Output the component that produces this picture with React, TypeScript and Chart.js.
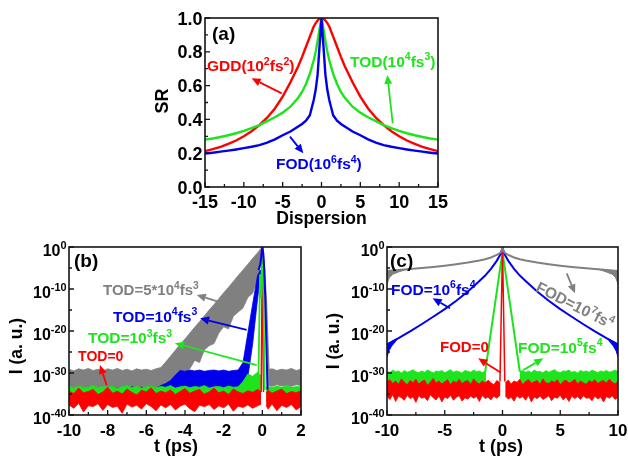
import React, { useEffect, useRef } from 'react';
import { Chart, registerables } from 'chart.js';

Chart.register(...registerables);

const W = 628;
const H = 458;
const FONT = '"Liberation Sans", Arial, Helvetica, sans-serif';
const RED = 'rgb(255,0,0)';
const GREEN = 'rgb(30,228,30)';
const BLUE = 'rgb(0,0,235)';
const GRAY = 'rgb(128,128,128)';

// ---------------- Panel (a): SR vs dispersion ----------------
const dispersion = [-15, -14, -13, -12, -11, -10, -9, -8, -7, -6, -5, -4, -3, -2.5, -2, -1.5, -1, -0.75, -0.5, -0.25, -0.1, 0, 0.1, 0.25, 0.5, 0.75, 1, 1.5, 2, 2.5, 3, 4, 5, 6, 7, 8, 9, 10, 11, 12, 13, 14, 15];
const srGDD = [0.212, 0.224, 0.238, 0.255, 0.275, 0.300, 0.330, 0.366, 0.410, 0.465, 0.535, 0.620, 0.715, 0.770, 0.830, 0.890, 0.950, 0.970, 0.985, 0.996, 0.999, 1.000, 0.999, 0.996, 0.985, 0.970, 0.950, 0.890, 0.830, 0.770, 0.715, 0.620, 0.535, 0.465, 0.410, 0.366, 0.330, 0.300, 0.275, 0.255, 0.238, 0.224, 0.212];
const srTOD = [0.280, 0.287, 0.296, 0.306, 0.318, 0.332, 0.348, 0.366, 0.390, 0.413, 0.440, 0.475, 0.528, 0.562, 0.610, 0.670, 0.750, 0.800, 0.865, 0.935, 0.975, 1.000, 0.975, 0.935, 0.865, 0.800, 0.750, 0.670, 0.610, 0.562, 0.528, 0.475, 0.440, 0.413, 0.390, 0.366, 0.348, 0.332, 0.318, 0.306, 0.296, 0.287, 0.280];
const srFOD = [0.198, 0.203, 0.209, 0.215, 0.222, 0.230, 0.238, 0.248, 0.262, 0.282, 0.306, 0.328, 0.358, 0.373, 0.392, 0.425, 0.515, 0.575, 0.665, 0.835, 0.930, 1.000, 0.930, 0.835, 0.665, 0.575, 0.515, 0.425, 0.392, 0.373, 0.358, 0.328, 0.306, 0.282, 0.262, 0.248, 0.238, 0.230, 0.222, 0.215, 0.209, 0.203, 0.198];
const srTicks = [0, 0.2, 0.4, 0.6, 0.8, 1.0];
const srTickLabels = ['0.0', '0.2', '0.4', '0.6', '0.8', '1.0'];
const srMinor = [0.1, 0.3, 0.5, 0.7, 0.9];
const dispTicks = [-15, -10, -5, 0, 5, 10, 15];
const dispTickLabels = ['-15', '-10', '-5', '0', '5', '10', '15'];
const dispMinor = [-12.5, -7.5, -2.5, 2.5, 7.5, 12.5];

// ---------------- Panel (b): TOD, intensity exponents (log10) ----------------
const tB = [-10, -9.75, -9.5, -9.25, -9, -8.75, -8.5, -8.25, -8, -7.75, -7.5, -7.25, -7, -6.75, -6.5, -6.25, -6, -5.75, -5.5, -5.25, -5, -4.75, -4.5, -4.25, -4, -3.75, -3.5, -3.25, -3, -2.75, -2.5, -2.25, -2, -1.75, -1.5, -1.25, -1, -0.75, -0.5, -0.25, -0.1, 0, 0.1, 0.2, 0.3, 0.5, 0.75, 1, 1.25, 1.5, 1.75, 2];
const tod5e4Top = [-29.1, -29.5, -29.0, -29.3, -28.9, -29.4, -29.1, -29.5, -29.0, -29.3, -28.9, -29.4, -29.1, -29.5, -29.0, -29.3, -29.1, -29.4, -29.0, -28.7,
  -27.4, -26.0, -24.6, -23.2, -21.9, -20.5, -19.1, -17.8, -16.4, -15.0, -13.7, -12.3, -10.9, -9.6, -8.2, -6.8, -5.5, -4.1, -2.7, -1.4, -0.5,
  0, null, null, -29.2, -29.0, -29.4, -29.1, -29.3, -28.9, -29.4, -29.1];
const tod5e4Bot = [-34.6, -34.3, -34.8, -34.4, -34.7, -34.3, -34.6, -34.9, -34.4, -34.7, -34.3, -34.6, -34.8, -34.4, -34.6, -34.3, -34.7, -34.5, -34.8, -34.4,
  -34.6, -34.0, -33.0, -31.5, -30.0, -29.0, -27.0, -27.5, -24.5, -23.5, -23.0, -20.5, -19.0, -19.5, -16.5, -15.5, -14.5, -12.0, -11.0, -7.5, -4.5,
  0, null, null, -33.0, -33.2, -32.8, -33.1, -32.9, -33.2, -32.8, -33.0];
const tod1e4Top = [-33.5, -33.8, -33.4, -33.7, -33.3, -33.6, -33.9, -33.4, -33.6, -33.2, -33.7, -33.5, -33.8, -33.3, -33.6, -33.4, -33.7, -33.3, -33.6, -33.0,
  -32.5, -31.8, -30.5, -29.4, -29.6, -29.3, -29.5, -29.3, -29.6, -29.4, -29.3, -29.5, -29.3, -29.6, -29.4, -29.3, -27.5, -20.5, -13.6, -6.8, -5.5,
  null, null, null, -33.4, -33.7, -33.3, -33.6, -33.2, -33.5, -33.8, -33.4];
const tod1e4Bot = [-36.8, -36.4, -37.0, -36.6, -36.9, -36.5, -37.1, -36.7, -36.4, -36.9, -36.6, -37.0, -36.5, -36.8, -36.4, -36.9, -36.6, -37.0, -36.7, -36.5,
  -36.9, -36.6, -36.8, -36.5, -36.9, -36.6, -36.8, -36.4, -36.7, -36.9, -36.5, -36.8, -36.6, -36.9, -36.5, -36.7, -36.6, -31.0, -23.0, -12.5, -7.0,
  null, null, null, -36.7, -36.4, -36.9, -36.6, -36.8, -36.5, -36.9, -36.6];
const tod1e3Top = [-33.2, -33.6, -33.1, -33.5, -33.3, -33.0, -33.6, -33.2, -33.4, -33.1, -33.7, -33.3, -33.0, -33.5, -33.2, -33.6, -33.3, -33.1, -33.5, -33.2,
  -33.4, -33.0, -33.6, -33.3, -33.1, -33.5, -33.2, -33.4, -33.0, -33.6, -33.3, -33.2, -33.5, -33.1, -33.4, -33.3,
  -32.0, -30.2, -30.8, -29.8, -30.5, null, null, -33.4, -33.2, -33.5, -33.1, -33.4, -33.0, -33.5, -33.2, -33.3];
const tod1e3Bot = [-36.6, -37.0, -36.5, -36.9, -36.7, -37.1, -36.4, -36.8, -36.6, -37.0, -36.5, -36.9, -36.7, -36.4, -36.8, -37.0, -36.6, -36.9, -36.5, -36.8,
  -36.7, -37.0, -36.4, -36.8, -36.6, -36.9, -36.5, -36.8, -37.0, -36.6, -36.7, -36.9, -36.5, -36.8, -36.6, -36.9, -36.7, -36.5, -36.8, -36.6, -36.4,
  null, null, -36.8, -36.5, -36.9, -36.6, -37.0, -36.7, -36.5, -36.9, -36.6];
const tod0Top = [-34.3, -34.9, -33.6, -34.7, -34.4, -33.9, -35.1, -34.5, -33.4, -34.8, -34.3, -35.0, -33.8, -34.6, -35.2, -34.1, -34.5, -33.5, -34.9, -34.3,
  -34.7, -34.0, -35.1, -34.4, -33.7, -34.8, -34.3, -33.9, -35.0, -34.5, -33.6, -34.7, -34.3, -35.1, -33.8, -34.5, -34.9, -34.2, -34.6, -33.9, -34.3,
  null, null, -34.6, -34.1, -34.8, -34.3, -33.8, -34.9, -34.4, -34.7, -34.2];
const tod0Bot = [-37.6, -38.4, -37.2, -39.3, -37.8, -38.0, -37.3, -38.9, -37.5, -38.2, -37.9, -39.6, -37.4, -38.1, -37.7, -38.6, -37.3, -38.0, -39.0, -37.6,
  -38.3, -37.5, -38.8, -37.9, -37.4, -38.5, -39.2, -37.7, -38.0, -37.5, -38.7, -37.8, -38.3, -37.4, -39.1, -37.9, -38.2, -37.6, -38.4, -37.8, -37.5,
  null, null, -37.8, -38.6, -37.4, -39.0, -37.7, -38.2, -37.5, -38.8, -38.0];
const grayFallT = [0, 0.1, 0.2, 0.33];
const grayFallE = [0, -5, -13, -29.5];
const bluePeakT = [-0.2, -0.1, -0.04, 0, 0.05, 0.1, 0.15, 0.2, 0.27];
const bluePeakE = [-5.5, -4, -1.5, 0, -1.5, -5.5, -12, -21.5, -34];
const greenPeakT = [-0.2, -0.12, -0.07, 0, 0.06, 0.12];
const greenPeakE = [-31, -6.5, -12, 0, -12, -34];
const redPeakT = [-0.06, 0, 0.06];
const redPeakE = [-34.5, 0, -34.5];
const tBTicks = [-10, -8, -6, -4, -2, 0, 2];
const tBTickLabels = ['-10', '-8', '-6', '-4', '-2', '0', '2'];
const tBMinor = [-9, -7, -5, -3, -1, 1];

// ---------------- Panel (c): FOD, intensity exponents (log10) ----------------
const tC = [-10, -9.75, -9.5, -9.25, -9, -8.75, -8.5, -8.25, -8, -7.75, -7.5, -7.25, -7, -6.75, -6.5, -6.25, -6, -5.75, -5.5, -5.25, -5, -4.75, -4.5, -4.25, -4, -3.75, -3.5, -3.25, -3, -2.75, -2.5, -2.25, -2, -1.75, -1.5, -1.25, -1, -0.75, -0.5, -0.25, 0,
  0.25, 0.5, 0.75, 1, 1.25, 1.5, 1.75, 2, 2.25, 2.5, 2.75, 3, 3.25, 3.5, 3.75, 4, 4.25, 4.5, 4.75, 5, 5.25, 5.5, 5.75, 6, 6.25, 6.5, 6.75, 7, 7.25, 7.5, 7.75, 8, 8.25, 8.5, 8.75, 9, 9.25, 9.5, 9.75, 10];
const fod1e5Top = [-29.6, -29.9, -29.3, -29.7, -29.5, -30.0, -29.4, -29.8, -29.6, -29.2, -29.7, -29.9, -29.5, -29.8, -29.3, -29.6, -30.0, -29.5, -29.7, -29.4,
  -29.9, -29.6, -29.2, -29.8, -29.5, -29.7, -30.0, -29.4, -29.6, -29.8, -29.3, -29.7, -29.5, -29.9, -29.6,
  null, null, null, null, null, null, null, null, null, null, null,
  -29.6, -29.4, -29.8, -29.5, -29.9, -29.3, -29.7, -29.6, -30.0, -29.4, -29.8, -29.5, -29.2, -29.7, -29.9, -29.5, -29.6, -29.3, -29.8, -29.6,
  -30.0, -29.4, -29.7, -29.5, -29.8, -29.3, -29.6, -29.9, -29.5, -29.7, -29.4, -29.8, -29.6, -29.3, -29.7];
const fod1e5Bot = [-34.4, -34.7, -34.2, -34.6, -34.3, -34.8, -34.5, -34.2, -34.6, -34.4, -34.7, -34.3, -34.5, -34.8, -34.2, -34.6, -34.4, -34.7, -34.3, -34.5,
  -34.6, -34.2, -34.8, -34.4, -34.5, -34.7, -34.3, -34.6, -34.2, -34.5, -34.4, -34.7, -34.3, -34.6, -34.5,
  null, null, null, null, null, null, null, null, null, null, null,
  -34.5, -34.3, -34.7, -34.4, -34.6, -34.2, -34.8, -34.5, -34.3, -34.6, -34.4, -34.7, -34.2, -34.5, -34.6, -34.3, -34.8, -34.4, -34.6, -34.2,
  -34.5, -34.7, -34.3, -34.6, -34.4, -34.8, -34.2, -34.5, -34.6, -34.3, -34.7, -34.4, -34.5, -34.6, -34.3];
const fod0Top = [-32.1, -31.6, -32.5, -31.9, -32.7, -31.4, -32.2, -32.8, -31.8, -32.3, -31.5, -32.6, -32.0, -31.7, -32.9, -32.2, -31.3, -32.4, -31.9, -32.6,
  -32.1, -31.6, -32.8, -31.9, -32.3, -31.5, -32.5, -32.0, -31.8, -32.7, -31.4, -32.2, -32.6, -31.9, -32.4, -31.7, -32.3, -32.8, -31.8, -32.2,
  null,
  -32.3, -31.7, -32.6, -31.9, -32.2, -31.5, -32.8, -32.0, -31.6, -32.4, -32.1, -31.8, -32.7, -31.4, -32.3, -32.5, -31.9, -32.2, -31.6, -32.8,
  -32.0, -31.7, -32.4, -32.1, -31.5, -32.6, -31.9, -32.3, -32.7, -31.8, -32.2, -31.6, -32.5, -32.0, -31.8, -32.4, -31.5, -32.2, -32.6, -32.0];
const fod0Bot = [-35.6, -36.3, -35.2, -36.8, -35.5, -35.9, -36.5, -35.3, -36.1, -35.7, -37.0, -35.4, -36.0, -35.8, -36.6, -35.2, -35.9, -36.4, -35.5, -36.9,
  -35.7, -36.1, -35.3, -36.5, -35.8, -35.4, -36.7, -35.9, -36.2, -35.5, -36.0, -35.6, -36.8, -35.3, -36.1, -35.7, -36.4, -35.5, -36.0, -35.4,
  null,
  -35.5, -36.2, -35.8, -36.7, -35.4, -36.0, -35.6, -36.5, -35.3, -36.9, -35.7, -36.1, -35.5, -36.3, -35.9, -35.4, -36.6, -35.8, -36.0, -35.3,
  -36.4, -35.7, -36.8, -35.5, -36.1, -35.6, -36.3, -35.4, -36.0, -35.9, -36.6, -35.5, -36.2, -35.7, -36.9, -35.6, -36.0, -35.4, -36.3, -35.8];
const curveCT = [-10, -9, -8, -7, -6, -5, -4, -3, -2, -1.5, -1, -0.5, -0.25, -0.1, 0, 0.1, 0.25, 0.5, 1, 1.5, 2, 3, 4, 5, 6, 7, 8, 9, 10];
const fod1e7 = [-5.7, -5.49, -5.26, -5.02, -4.75, -4.45, -4.11, -3.71, -3.2, -2.9, -2.5, -1.9, -1.5, -1.1, 0, -1.1, -1.5, -1.9, -2.5, -2.9, -3.2, -3.71, -4.11, -4.45, -4.75, -5.02, -5.26, -5.49, -5.7];
const fod1e6 = [-23.2, -21.7, -20.1, -18.4, -16.6, -14.8, -12.8, -10.6, -8.1, -6.8, -5.2, -3.3, -2.1, -1.2, 0, -1.2, -2.1, -3.3, -5.2, -6.8, -8.1, -10.6, -12.8, -14.8, -16.6, -18.4, -20.1, -21.7, -23.2];
const grayWedgeLT = [-10, -9.5, -9, -8.3, -9, -9.5, -9.8, -10];
const grayWedgeRT = [10, 9.5, 9, 8.3, 9, 9.5, 9.8, 10];
const grayWedgeE = [-5.7, -5.6, -5.49, -5.3, -5.95, -6.5, -7.3, -8.8];
const blueWedgeLT = [-10, -9.5, -9.1, -9.3, -9.6, -9.85, -10];
const blueWedgeRT = [10, 9.5, 9.1, 9.3, 9.6, 9.85, 10];
const blueWedgeE = [-23.2, -22.4, -21.8, -22.6, -23.6, -24.8, -26.2];
const greenTriT = [-1.5, 0, 1.5];
const greenTriE = [-29.7, -1.2, -29.7];
const redPeakCT = [-0.22, 0, 0.2];
const redPeakCE = [-32, 0, -32];
const tCTicks = [-10, -5, 0, 5, 10];
const tCTickLabels = ['-10', '-5', '0', '5', '10'];
const tCMinor = [-7.5, -2.5, 2.5, 7.5];

// log-axis ticks (exponents)
const logTicks = [0, -10, -20, -30, -40];
const logTickLabels = ['10^{0}', '10^{-10}', '10^{-20}', '10^{-30}', '10^{-40}'];
const logMinor = [-5, -15, -25, -35];

// ---------------- helpers ----------------
const P10 = (e: number) => Math.pow(10, e);

function bandSets(t: number[], top: (number | null)[], bot: (number | null)[], color: string, order: number) {
  const sets: any[] = [];
  let run: number[] = [];
  const flush = () => {
    if (run.length > 1) {
      const up = run.map((i) => ({ x: t[i], y: P10(top[i] as number) }));
      const dn = run.slice().reverse().map((i) => ({ x: t[i], y: P10(bot[i] as number) }));
      sets.push({ data: [...up, ...dn], fill: 'shape', backgroundColor: color, borderColor: color, borderWidth: 0.8, pointRadius: 0, tension: 0, order });
    }
    run = [];
  };
  for (let i = 0; i < t.length; i++) {
    if (top[i] === null || bot[i] === null) flush();
    else run.push(i);
  }
  flush();
  return sets;
}

function polySet(t: number[], e: number[], color: string, order: number) {
  return { data: t.map((x, i) => ({ x, y: P10(e[i]) })), fill: 'shape', backgroundColor: color, borderColor: color, borderWidth: 1, pointRadius: 0, tension: 0, order };
}

function lineSet(t: number[], v: number[], color: string, width: number, order: number, log = true) {
  return { data: t.map((x, i) => ({ x, y: log ? P10(v[i]) : v[i] })), borderColor: color, borderWidth: width, pointRadius: 0, fill: false, tension: 0, order };
}

function drawRich(ctx: CanvasRenderingContext2D, s: string, x: number, y: number, size: number, color: string, align: 'left' | 'right' | 'center') {
  const parts: { t: string; sup: boolean }[] = [];
  const re = /\^\{([^}]*)\}/g;
  let last = 0;
  let m: RegExpExecArray | null;
  while ((m = re.exec(s))) {
    if (m.index > last) parts.push({ t: s.slice(last, m.index), sup: false });
    parts.push({ t: m[1], sup: true });
    last = re.lastIndex;
  }
  if (last < s.length) parts.push({ t: s.slice(last), sup: false });
  const supSize = size * 0.68;
  const fontOf = (sup: boolean) => `bold ${sup ? supSize : size}px ${FONT}`;
  let total = 0;
  const widths = parts.map((p) => {
    ctx.font = fontOf(p.sup);
    const w = ctx.measureText(p.t).width;
    total += w;
    return w;
  });
  let cx = align === 'left' ? x : align === 'right' ? x - total : x - total / 2;
  ctx.fillStyle = color;
  ctx.textAlign = 'left';
  ctx.textBaseline = 'alphabetic';
  parts.forEach((p, i) => {
    ctx.font = fontOf(p.sup);
    ctx.fillText(p.t, cx, p.sup ? y - size * 0.42 : y);
    cx += widths[i];
  });
}

function drawArrow(ctx: CanvasRenderingContext2D, x1: number, y1: number, x2: number, y2: number, color: string) {
  const ang = Math.atan2(y2 - y1, x2 - x1);
  const hl = 9;
  const hw = 4;
  const bx = x2 - hl * Math.cos(ang);
  const by = y2 - hl * Math.sin(ang);
  ctx.strokeStyle = color;
  ctx.fillStyle = color;
  ctx.lineWidth = 1.8;
  ctx.beginPath();
  ctx.moveTo(x1, y1);
  ctx.lineTo(bx, by);
  ctx.stroke();
  ctx.beginPath();
  ctx.moveTo(x2, y2);
  ctx.lineTo(bx + hw * Math.sin(ang), by - hw * Math.cos(ang));
  ctx.lineTo(bx - hw * Math.sin(ang), by + hw * Math.cos(ang));
  ctx.closePath();
  ctx.fill();
}

type Note = { text: string; x: number; y: number; color: string; size: number; rot?: number };
type Arrow = { x1: number; y1: number; x2: number; y2: number; color: string };
type FrameCfg = {
  log: boolean;
  xMajor: number[]; xMinor: number[]; xLabels: string[]; xLabelSize: number;
  yMajor: number[]; yMinor: number[]; yLabels: string[]; yLabelSize: number; yLabelDy: number;
  xTitle: string; xTitleSize: number; xTitleDx: number;
  yTitle: string; yTitleSize: number; yTitleDx: number; yTitleDy: number;
  notes: Note[]; arrows: Arrow[];
};

function framePlugin(f: FrameCfg) {
  return {
    id: 'frame',
    afterDatasetsDraw(chart: any) {
      const ctx: CanvasRenderingContext2D = chart.ctx;
      const { left, right, top, bottom } = chart.chartArea;
      const xs = chart.scales.x;
      const ys = chart.scales.y;
      const X = (v: number) => xs.getPixelForValue(v);
      const Y = (v: number) => ys.getPixelForValue(f.log ? P10(v) : v);
      ctx.save();
      for (const a of f.arrows) drawArrow(ctx, X(a.x1), Y(a.y1), X(a.x2), Y(a.y2), a.color);
      for (const n of f.notes) {
        if (n.rot) {
          ctx.save();
          ctx.translate(X(n.x), Y(n.y));
          ctx.rotate((n.rot * Math.PI) / 180);
          drawRich(ctx, n.text, 0, n.size * 0.36, n.size, n.color, 'center');
          ctx.restore();
        } else {
          drawRich(ctx, n.text, X(n.x), Y(n.y), n.size, n.color, 'left');
        }
      }
      // frame
      ctx.strokeStyle = '#151515';
      ctx.lineWidth = 1.6;
      ctx.strokeRect(left, top, right - left, bottom - top);
      // inward ticks
      ctx.lineWidth = 1.3;
      ctx.beginPath();
      for (const v of f.xMajor) { const px = X(v); ctx.moveTo(px, bottom); ctx.lineTo(px, bottom - 5); }
      for (const v of f.xMinor) { const px = X(v); ctx.moveTo(px, bottom); ctx.lineTo(px, bottom - 3); }
      for (const v of f.yMajor) { const py = Y(v); ctx.moveTo(left, py); ctx.lineTo(left + 5, py); }
      for (const v of f.yMinor) { const py = Y(v); ctx.moveTo(left, py); ctx.lineTo(left + 3, py); }
      ctx.stroke();
      // tick labels
      f.xMajor.forEach((v, i) => drawRich(ctx, f.xLabels[i], X(v), bottom + 20.5, f.xLabelSize, '#000', 'center'));
      f.yMajor.forEach((v, i) => drawRich(ctx, f.yLabels[i], left - 2.5, Y(v) + f.yLabelDy, f.yLabelSize, '#000', 'right'));
      // axis titles
      drawRich(ctx, f.xTitle, (left + right) / 2 + f.xTitleDx, bottom + 36.5, f.xTitleSize, '#000', 'center');
      ctx.save();
      ctx.translate(left + f.yTitleDx, (top + bottom) / 2 + f.yTitleDy);
      ctx.rotate(-Math.PI / 2);
      drawRich(ctx, f.yTitle, 0, f.yTitleSize * 0.36, f.yTitleSize, '#000', 'center');
      ctx.restore();
      ctx.restore();
    },
  };
}

function baseOptions(pad: { left: number; top: number; right: number; bottom: number }, xMin: number, xMax: number, log: boolean) {
  return {
    responsive: false,
    animation: false,
    devicePixelRatio: 1,
    events: [],
    layout: { padding: pad },
    plugins: { legend: { display: false }, tooltip: { enabled: false }, title: { display: false } },
    scales: {
      x: { type: 'linear', min: xMin, max: xMax, display: false },
      y: log ? { type: 'logarithmic', min: 1e-40, max: 1, display: false } : { type: 'linear', min: 0, max: 1, display: false },
    },
  } as any;
}

function makeA(canvas: HTMLCanvasElement) {
  const datasets = [
    lineSet(dispersion, srGDD, RED, 2.4, 3, false),
    lineSet(dispersion, srTOD, GREEN, 2.4, 2, false),
    lineSet(dispersion, srFOD, BLUE, 2.4, 1, false),
  ];
  const frame: FrameCfg = {
    log: false,
    xMajor: dispTicks, xMinor: dispMinor, xLabels: dispTickLabels, xLabelSize: 18,
    yMajor: srTicks, yMinor: srMinor, yLabels: srTickLabels, yLabelSize: 18, yLabelDy: 6.5,
    xTitle: 'Dispersion', xTitleSize: 17.5, xTitleDx: 0,
    yTitle: 'SR', yTitleSize: 18, yTitleDx: -43, yTitleDy: -1.5,
    notes: [
      { text: '(a)', x: -14.1, y: 0.87, color: '#000', size: 19 },
      { text: 'GDD(10^{2}fs^{2})', x: -14.74, y: 0.686, color: RED, size: 15.5 },
      { text: 'TOD(10^{4}fs^{3})', x: 3.67, y: 0.712, color: GREEN, size: 15.5 },
      { text: 'FOD(10^{6}fs^{4})', x: -5.86, y: 0.104, color: BLUE, size: 15.5 },
    ],
    arrows: [
      { x1: -5.12, y1: 0.554, x2: -8.99, y2: 0.643, color: RED },
      { x1: 9.17, y1: 0.377, x2: 8.47, y2: 0.663, color: GREEN },
      { x1: -4.06, y1: 0.298, x2: -2.34, y2: 0.199, color: BLUE },
    ],
  };
  return new Chart(canvas, {
    type: 'line',
    data: { datasets } as any,
    options: baseOptions({ left: 205, top: 18, right: W - 438, bottom: H - 187 }, -15, 15, false),
    plugins: [framePlugin(frame)],
  });
}

function makeB(canvas: HTMLCanvasElement) {
  const datasets = [
    ...bandSets(tB, tod5e4Top, tod5e4Bot, GRAY, 100),
    ...bandSets(tB, tod1e4Top, tod1e4Bot, BLUE, 90),
    ...bandSets(tB, tod1e3Top, tod1e3Bot, GREEN, 80),
    ...bandSets(tB, tod0Top, tod0Bot, RED, 70),
    lineSet(redPeakT, redPeakE, RED, 1.5, 60),
    lineSet(greenPeakT, greenPeakE, GREEN, 1.8, 50),
    lineSet(grayFallT, grayFallE, GRAY, 1.8, 40),
    lineSet(bluePeakT, bluePeakE, BLUE, 2, 30),
  ];
  const frame: FrameCfg = {
    log: true,
    xMajor: tBTicks, xMinor: tBMinor, xLabels: tBTickLabels, xLabelSize: 17,
    yMajor: logTicks, yMinor: logMinor, yLabels: logTickLabels, yLabelSize: 16, yLabelDy: 9,
    xTitle: 't (ps)', xTitleSize: 18, xTitleDx: -9,
    yTitle: 'I (a. u.)', yTitleSize: 17.5, yTitleDx: -53.5, yTitleDy: 15,
    notes: [
      { text: '(b)', x: -9.74, y: -4.76, color: '#000', size: 19 },
      { text: 'TOD=5*10^{4}fs^{3}', x: -8.24, y: -11.43, color: GRAY, size: 15 },
      { text: 'TOD=10^{4}fs^{3}', x: -7.72, y: -17.74, color: BLUE, size: 15.5 },
      { text: 'TOD=10^{3}fs^{3}', x: -9.02, y: -22.86, color: GREEN, size: 15.5 },
      { text: 'TOD=0', x: -9.53, y: -27.26, color: RED, size: 14 },
    ],
    arrows: [
      { x1: -2.29, y1: -13.0, x2: -3.39, y2: -11.43, color: GRAY },
      { x1: -0.81, y1: -19.76, x2: -3.22, y2: -16.98, color: BLUE },
      { x1: -0.29, y1: -28.1, x2: -4.52, y2: -22.9, color: GREEN },
      { x1: -8.05, y1: -32.9, x2: -8.4, y2: -28.1, color: RED },
    ],
  };
  return new Chart(canvas, {
    type: 'line',
    data: { datasets } as any,
    options: baseOptions({ left: 69, top: 247, right: W - 301, bottom: H - 415 }, -10, 2, true),
    plugins: [framePlugin(frame)],
  });
}

function makeC(canvas: HTMLCanvasElement) {
  const datasets = [
    ...bandSets(tC, fod1e5Top, fod1e5Bot, GREEN, 70),
    ...bandSets(tC, fod0Top, fod0Bot, RED, 60),
    lineSet(greenTriT, greenTriE, GREEN, 2, 50),
    lineSet(redPeakCT, redPeakCE, RED, 1.5, 40),
    polySet(blueWedgeLT, blueWedgeE, BLUE, 31),
    polySet(blueWedgeRT, blueWedgeE, BLUE, 31),
    lineSet(curveCT, fod1e6, BLUE, 2, 30),
    polySet(grayWedgeLT, grayWedgeE, GRAY, 21),
    polySet(grayWedgeRT, grayWedgeE, GRAY, 21),
    lineSet(curveCT, fod1e7, GRAY, 2, 20),
  ];
  const frame: FrameCfg = {
    log: true,
    xMajor: tCTicks, xMinor: tCMinor, xLabels: tCTickLabels, xLabelSize: 17,
    yMajor: logTicks, yMinor: logMinor, yLabels: logTickLabels, yLabelSize: 16, yLabelDy: 9,
    xTitle: 't (ps)', xTitleSize: 18, xTitleDx: -1.5,
    yTitle: 'I (a. u.)', yTitleSize: 17.5, yTitleDx: -54, yTitleDy: 10,
    notes: [
      { text: '(c)', x: -9.74, y: -4.76, color: '#000', size: 19 },
      { text: 'FOD=10^{6}fs^{4}', x: -9.65, y: -11.43, color: BLUE, size: 15.5 },
      { text: 'FOD=0', x: -5.41, y: -25.1, color: RED, size: 15 },
      { text: 'FOD=10^{5}fs^{4}', x: 1.34, y: -25.2, color: GREEN, size: 15.5 },
      { text: 'FOD=10^{7}fs^{4}', x: 6.28, y: -13.8, color: GRAY, size: 15.5, rot: 27 },
    ],
    arrows: [
      { x1: -4.55, y1: -14.6, x2: -6.04, y2: -12.2, color: BLUE },
      { x1: 5.56, y1: -6.26, x2: 6.28, y2: -11.02, color: GRAY },
      { x1: -0.16, y1: -29.9, x2: -2.1, y2: -26.5, color: RED },
      { x1: 1.8, y1: -29.3, x2: 3.53, y2: -26.5, color: GREEN },
    ],
  };
  return new Chart(canvas, {
    type: 'line',
    data: { datasets } as any,
    options: baseOptions({ left: 387, top: 247, right: W - 618, bottom: H - 415 }, -10, 10, true),
    plugins: [framePlugin(frame)],
  });
}

function Panel({ make }: { make: (c: HTMLCanvasElement) => Chart }) {
  const ref = useRef<HTMLCanvasElement | null>(null);
  useEffect(() => {
    if (!ref.current) return;
    const chart = make(ref.current);
    return () => chart.destroy();
  }, [make]);
  return <canvas ref={ref} width={W} height={H} style={{ position: 'absolute', left: 0, top: 0, width: W, height: H }} />;
}

export default function App() {
  return (
    <div style={{ position: 'fixed', left: 0, top: 0, width: W, height: H, background: '#fff', overflow: 'hidden' }}>
      <Panel make={makeA} />
      <Panel make={makeB} />
      <Panel make={makeC} />
    </div>
  );
}
